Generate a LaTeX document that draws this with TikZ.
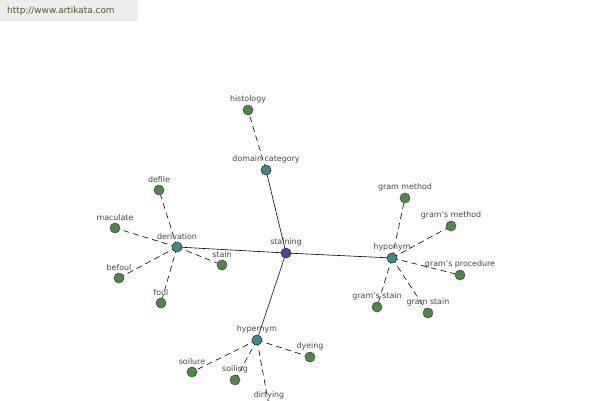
\documentclass[tikz,border=0pt]{standalone}
\usepackage{fontspec}
\setmainfont{DejaVu Sans}
\begin{document}
\begin{tikzpicture}[x=1pt,y=-1pt,
  leaf/.style={circle,draw=black!70,fill=leafc,line width=0.6pt,minimum size=10pt,inner sep=0pt},
  mid/.style={circle,draw=black!80,fill=midc,line width=0.6pt,minimum size=10pt,inner sep=0pt},
  root/.style={circle,draw=black!80,fill=rootc,line width=0.6pt,minimum size=10pt,inner sep=0pt},
  lbl/.style={font=\fontsize{7.9}{8}\selectfont,text=black!72,inner sep=0pt,anchor=south,yshift=7pt},
  solidedge/.style={draw=black,line width=0.6pt},
  dashedge/.style={draw=black,line width=0.6pt,dash pattern=on 6pt off 4pt}]
\definecolor{leafc}{HTML}{4C8A44}
\definecolor{midc}{HTML}{3A8C8C}
\definecolor{rootc}{HTML}{4648A0}
\definecolor{hdrbg}{HTML}{EDEDED}
\definecolor{hdrtx}{HTML}{4A5A22}
\useasboundingbox (0,0) rectangle (600,400);
\clip (0,0) rectangle (600,400);
\fill[white] (0,0) rectangle (600,400);
\fill[hdrbg] (0,0) rectangle (138,21);
\node[font=\fontsize{8.9}{9}\selectfont,text=hdrtx,anchor=west,inner sep=0pt] (url) at (7,11) {http://www.artikata.com};
% node positions
\coordinate (staining) at (286,253);
\coordinate (domain) at (266,170);
\coordinate (histology) at (248,110);
\coordinate (derivation) at (177,247);
\coordinate (defile) at (159,190);
\coordinate (maculate) at (115,228);
\coordinate (befoul) at (119,278);
\coordinate (foul) at (161,303);
\coordinate (stain) at (222,265);
\coordinate (hyponym) at (392,258);
\coordinate (grammethod) at (405,198);
\coordinate (gramsmethod) at (451,226);
\coordinate (gramsproc) at (460,275);
\coordinate (gramsstain) at (377,307);
\coordinate (gramstain) at (428,313);
\coordinate (hypernym) at (257,340);
\coordinate (soilure) at (192,372);
\coordinate (soiling) at (235,380);
\coordinate (dirtying) at (269,406);
\coordinate (dyeing) at (310,357);
% edges
\draw[solidedge] (staining) -- (domain);
\draw[solidedge] (staining) -- (derivation);
\draw[solidedge] (staining) -- (hyponym);
\draw[solidedge] (staining) -- (hypernym);
\draw[dashedge] (domain) -- (histology);
\draw[dashedge] (derivation) -- (defile);
\draw[dashedge] (derivation) -- (maculate);
\draw[dashedge] (derivation) -- (befoul);
\draw[dashedge] (derivation) -- (foul);
\draw[dashedge] (derivation) -- (stain);
\draw[dashedge] (hyponym) -- (grammethod);
\draw[dashedge] (hyponym) -- (gramsmethod);
\draw[dashedge] (hyponym) -- (gramsproc);
\draw[dashedge] (hyponym) -- (gramsstain);
\draw[dashedge] (hyponym) -- (gramstain);
\draw[dashedge] (hypernym) -- (soilure);
\draw[dashedge] (hypernym) -- (soiling);
\draw[dashedge] (hypernym) -- (dirtying);
\draw[dashedge] (hypernym) -- (dyeing);
% nodes on top
\node[root] (nstaining) at (staining) {};
\foreach \n in {domain,derivation,hyponym,hypernym}
  \node[mid] (n\n) at (\n) {};
\foreach \n in {histology,defile,maculate,befoul,foul,stain,grammethod,gramsmethod,gramsproc,gramsstain,gramstain,soilure,soiling,dirtying,dyeing}
  \node[leaf] (n\n) at (\n) {};
% labels
\node[lbl] at (staining) {staining};
\node[lbl] at (domain) {domain category};
\node[lbl] at (histology) {histology};
\node[lbl] at (derivation) {derivation};
\node[lbl] at (defile) {defile};
\node[lbl] at (maculate) {maculate};
\node[lbl] at (befoul) {befoul};
\node[lbl] at (foul) {foul};
\node[lbl] at (stain) {stain};
\node[lbl] at (hyponym) {hyponym};
\node[lbl] at (grammethod) {gram method};
\node[lbl] at (gramsmethod) {gram's method};
\node[lbl] at (gramsproc) {gram's procedure};
\node[lbl] at (gramsstain) {gram's stain};
\node[lbl] at (gramstain) {gram stain};
\node[lbl] at (hypernym) {hypernym};
\node[lbl] at (soilure) {soilure};
\node[lbl] at (soiling) {soiling};
\node[lbl] at (dirtying) {dirtying};
\node[lbl] at (dyeing) {dyeing};
\end{tikzpicture}
\end{document}
